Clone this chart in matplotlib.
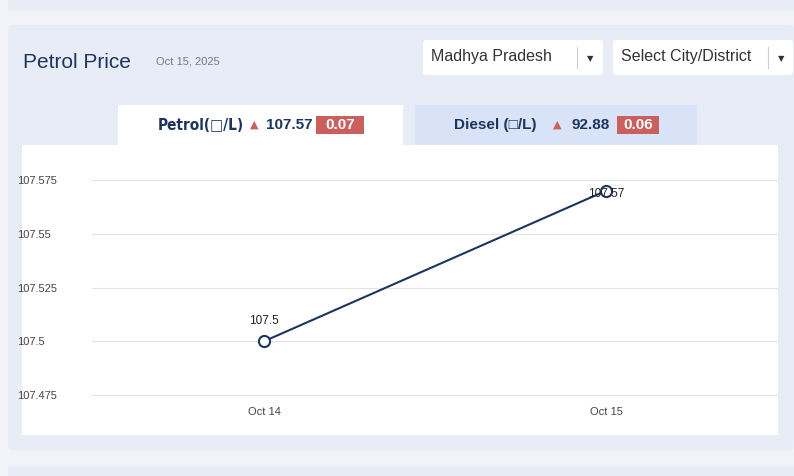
import matplotlib
matplotlib.use("Agg")
import matplotlib.pyplot as plt
from matplotlib.patches import FancyBboxPatch

dates = ["Oct 14", "Oct 15"]
prices = [107.5, 107.57]
yticks = [107.475, 107.5, 107.525, 107.55, 107.575]

plt.rcParams['font.family'] = ['Liberation Sans', 'DejaVu Sans']
W, H = 794, 476
fig = plt.figure(figsize=(W/100, H/100), dpi=100)
fig.patch.set_facecolor("#f1f3f8")

def px(x, y, w, h):
    return [x/W, 1-(y+h)/H, w/W, h/H]

bg = fig.add_axes([0, 0, 1, 1]); bg.set_xlim(0, W); bg.set_ylim(H, 0); bg.axis("off")
def rect(x, y, w, h, c, r=0):
    bg.add_patch(FancyBboxPatch((x, y), w, h, boxstyle=f"round,pad=0,rounding_size={r}", fc=c, ec="none"))
rect(8, 0, 786, 10, "#e8ecf6")
rect(8, 25, 786, 425, "#e8ecf6", r=4)
rect(8, 466, 786, 10, "#e8ecf6")
rect(22, 145, 756, 290, "white")
rect(118, 105, 285, 42, "white")
rect(415, 105, 282, 40, "#d9e3f7")
rect(423, 40, 180, 35, "white", r=3)
rect(613, 40, 180, 35, "white", r=3)
navy = "#1c355e"
bg.text(23, 62, "Petrol Price", fontsize=15, color=navy, va="center")
bg.text(156, 62, "Oct 15, 2025", fontsize=8, color="#6b7a90", va="center")
bg.text(431, 57, "Madhya Pradesh", fontsize=11.5, color="#333333", va="center")
bg.text(621, 57, "Select City/District", fontsize=11.5, color="#333333", va="center")
for x0 in (577, 768):
    bg.plot([x0, x0], [47, 68], color="#cccccc", lw=0.8)
    bg.text(x0+13, 59, "▼", fontsize=6, color="#333333", ha="center", va="center", family="DejaVu Sans")
bg.text(158, 125, "Petrol(□/L)", fontsize=11, fontweight="bold", color=navy, va="center", family=["DejaVu Sans"], fontstretch="condensed")
bg.text(250, 125, "▲", fontsize=8, color="#c9605e", va="center", family="DejaVu Sans")
bg.text(266, 125, "107.57", fontsize=11, fontweight="bold", color=navy, va="center")
rect(316, 116, 48, 18, "#c9605e")
bg.text(340, 125, "0.07", fontsize=11, fontweight="bold", color="white", va="center", ha="center")
bg.text(454, 125, "Diesel (□/L)", fontsize=11, fontweight="bold", color=navy, va="center")
bg.text(553, 125, "▲", fontsize=8, color="#c9605e", va="center", family="DejaVu Sans")
bg.text(571, 125, "92.88", fontsize=11, fontweight="bold", color=navy, va="center")
rect(617, 116, 42, 18, "#c9605e")
bg.text(638, 125, "0.06", fontsize=11, fontweight="bold", color="white", va="center", ha="center")

ax = fig.add_axes(px(92, 160, 686, 240))
ax.patch.set_alpha(0)
x = list(range(len(dates)))
ax.plot(x, prices, color=navy, lw=1.5, marker="o", ms=8, mfc="white", mec=navy, mew=1.5, zorder=3)
label_offsets = [(0, 14), (0, -3)]
for xi, p, off in zip(x, prices, label_offsets):
    ax.annotate(f"{p:g}", (xi, p), xytext=off, textcoords="offset pixels",
                fontsize=8.5, ha="center", va="bottom" if off[1] > 0 else "center", color="#222222", zorder=4)
ax.set_xlim(-0.503, 1.503)
ax.set_ylim(107.4727, 107.5843)
ax.set_yticks(yticks)
ax.set_yticklabels([f"{v:g}" for v in yticks])
ax.set_xticks(x); ax.set_xticklabels(dates)
ax.grid(axis="y", color="#e3e3e3", lw=0.8)
ax.tick_params(length=0, labelsize=8, colors="#444444")
ax.tick_params(axis="x", pad=5)
for lab in ax.get_yticklabels():
    lab.set_ha("left")
ax.tick_params(axis="y", pad=54)
for s in ax.spines.values(): s.set_visible(False)
fig.savefig("out.png", dpi=100, facecolor=fig.get_facecolor())
